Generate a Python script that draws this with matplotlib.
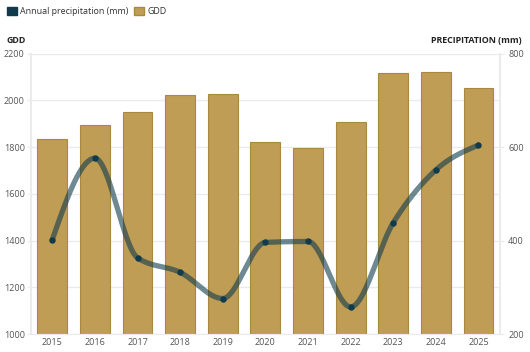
import numpy as np
import matplotlib
matplotlib.use("Agg")
import matplotlib.pyplot as plt
from matplotlib.patches import Patch

years = ["2015", "2016", "2017", "2018", "2019", "2020", "2021", "2022", "2023", "2024", "2025"]
gdd = [1833, 1893, 1949, 2021, 2028, 1823, 1795, 1908, 2118, 2120, 2053]
precip = [402, 576, 363, 332, 276, 396, 398, 258, 438, 551, 604]

gdd_ticks = [1000, 1200, 1400, 1600, 1800, 2000, 2200]
precip_ticks = [200, 400, 600, 800]

BAR = "#c09d55"
BAR_EDGE = "#a8893f"
LINE = "#103b4c"
GRID = "#ebebeb"
TXT = "#555555"

plt.rcParams['font.family'] = ['Open Sans', 'DejaVu Sans']


# monotone cubic (like d3 curveMonotoneX), only used to draw a smooth line
def monotone(xs, ys, n=40):
    xs = np.asarray(xs, float)
    ys = np.asarray(ys, float)
    h = np.diff(xs)
    s = np.diff(ys) / h
    m = np.zeros(len(xs))
    for i in range(1, len(xs) - 1):
        p = (s[i - 1] * h[i] + s[i] * h[i - 1]) / (h[i - 1] + h[i])
        m[i] = (np.sign(s[i - 1]) + np.sign(s[i])) * min(abs(s[i - 1]), abs(s[i]), 0.5 * abs(p))
    m[0] = (3 * s[0] - m[1]) / 2
    m[-1] = (3 * s[-1] - m[-2]) / 2
    out_x, out_y = [], []
    for i in range(len(xs) - 1):
        t = np.linspace(0, 1, n)
        h00 = 2 * t**3 - 3 * t**2 + 1
        h10 = t**3 - 2 * t**2 + t
        h01 = -2 * t**3 + 3 * t**2
        h11 = t**3 - t**2
        out_x.extend(xs[i] + t * h[i])
        out_y.extend(h00 * ys[i] + h10 * h[i] * m[i] + h01 * ys[i + 1] + h11 * h[i] * m[i + 1])
    return np.array(out_x), np.array(out_y)


fig = plt.figure(figsize=(5.3, 3.52), dpi=100)
ax = fig.add_axes([0.0585, 0.051, 0.8845, 0.797])
x = np.arange(len(years))

ax.bar(x, gdd, width=0.7, color=BAR, edgecolor=BAR_EDGE, linewidth=0.8, zorder=2)
ax.set_ylim(1000, 2200)
ax.set_xlim(-0.5, 10.5)
ax.set_yticks(gdd_ticks)
ax.set_xticks(x, years)
ax.grid(axis='y', color=GRID, linewidth=1, zorder=0)
ax.set_axisbelow(True)
for side in ['top', 'right']:
    ax.spines[side].set_visible(False)
ax.spines['left'].set_color(GRID)
ax.spines['bottom'].set_color(GRID)
ax.spines['left'].set_linewidth(1.5)
ax.tick_params(axis='y', colors=GRID, labelcolor=TXT, labelsize=6.5, length=3, pad=1.5)
ax.tick_params(axis='x', length=0, labelcolor=TXT, labelsize=6.5, pad=3)

ax2 = ax.twinx()
ax2.set_ylim(200, 800)
ax2.set_yticks(precip_ticks)
for side in ['top', 'left', 'bottom']:
    ax2.spines[side].set_visible(False)
ax2.spines['right'].set_color(GRID)
ax2.spines['right'].set_linewidth(1.5)
ax2.tick_params(axis='y', colors=GRID, labelcolor=TXT, labelsize=6.5, length=3, pad=3)

cx, cy = monotone(x, precip)
ax2.plot(cx, cy, color=LINE, alpha=0.6, linewidth=3.8, solid_capstyle='round', zorder=3)
ax2.plot(x, precip, 'o', color=LINE, markersize=3.6, zorder=4)

fig.text(0.013, 0.886, "GDD", fontsize=6.4, fontweight='bold', color="#222222", va='center')
fig.text(0.985, 0.886, "PRECIPITATION (mm)", fontsize=6.4, fontweight='bold', color="#222222",
         va='center', ha='right')

handles = [Patch(facecolor=LINE, edgecolor=LINE, label="Annual precipitation (mm)"),
           Patch(facecolor=BAR, edgecolor=BAR_EDGE, label="GDD")]
fig.legend(handles=handles, loc='upper left', bbox_to_anchor=(0.0, 1.0), ncol=2, frameon=False,
           fontsize=6.4, handlelength=1.15, handleheight=1.15, handletextpad=0.3, columnspacing=0.7,
           borderaxespad=0.35, labelcolor="#333333")

fig.savefig("out.png", dpi=100)
